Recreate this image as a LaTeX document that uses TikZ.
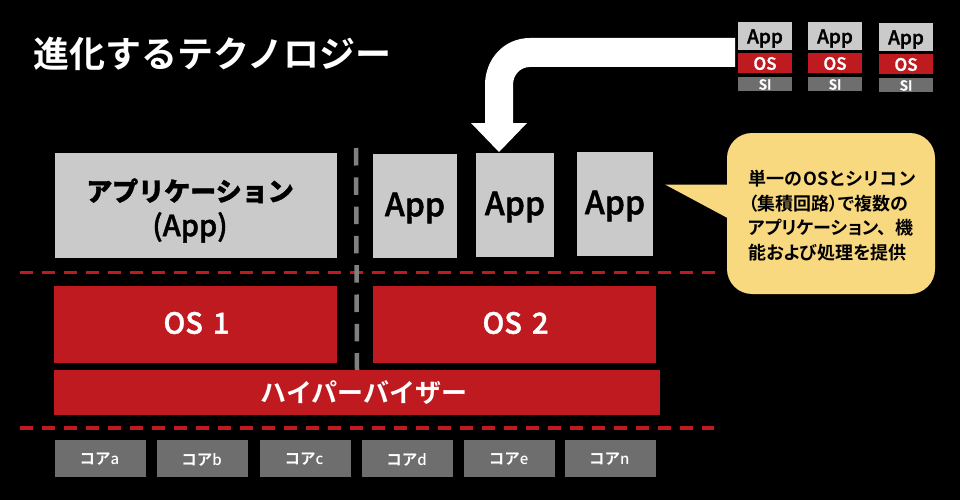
\documentclass[tikz,border=0pt]{standalone}
\usepackage{fontspec}
\setmainfont{Noto Sans CJK JP}[BoldFont={Noto Sans CJK JP Bold}]
\newfontfamily\medf{Noto Sans CJK JP Medium}
\newfontfamily\appf{Noto Sans CJK JP Medium}[FakeBold=1.5]
\newfontfamily\paltf{Noto Sans CJK JP Bold}[RawFeature=+palt]
\newcommand{\fsz}[1]{\fontsize{#1}{#1}\selectfont}
\newcommand{\dn}[2]{\raisebox{-#1pt}[\height][\depth]{#2}}
\definecolor{redbox}{HTML}{BE1A20}
\definecolor{lightbox}{HTML}{C9CAC9}
\definecolor{darkbox}{HTML}{6E6E6E}
\definecolor{bubblefill}{HTML}{F8D980}
\definecolor{vdash}{HTML}{808080}
\tikzset{
  box/.style={anchor=north west,inner sep=0pt,outer sep=0pt,align=center},
  appbox/.style={box,fill=lightbox,text=black},
  osbox/.style={box,fill=redbox,text=white},
  sibox/.style={box,fill=darkbox,text=white},
  corebox/.style={box,fill=darkbox,text=white,minimum width=#1,minimum height=37pt},
  reddash/.style={draw=redbox,line width=3.5pt,dash pattern=on 13pt off 9pt},
  graydash/.style={draw=vdash,line width=4.5pt,dash pattern=on 17.5pt off 11.8pt},
  smallapp/.style={appbox,minimum width=54pt,minimum height=28pt,font=\appf\fsz{19}},
  smallos/.style={osbox,minimum width=54pt,minimum height=20pt,font=\appf\fsz{17}},
  smallsi/.style={sibox,minimum width=54pt,minimum height=14pt,font=\appf\fsz{14}},
}
\newcommand{\coretxt}[1]{\hspace*{-2pt}\dn{1}{{\fsz{15.5}\bfseries コア}{\medf\fsz{15}#1}}}
\begin{document}
\begin{tikzpicture}[x=1pt,y=-1pt]
\useasboundingbox[fill=black] (0,0) rectangle (960,500);
\node[anchor=west,inner sep=0pt,text=white,font=\fsz{36}\bfseries] (title) at (33,54) {進化するテクノロジー};

% small stacks
\node[smallapp] (a1) at (738,22) {\dn{2.5}{App}};
\node[smallos] (o1) at (738,53) {\dn{0.5}{OS}};
\node[smallsi] (s1) at (738,77) {\dn{0.5}{SI}};
\node[smallapp] (a2) at (808,22) {\dn{2.5}{App}};
\node[smallos] (o2) at (808,53) {\dn{0.5}{OS}};
\node[smallsi] (s2) at (808,77) {\dn{0.5}{SI}};
\node[smallapp] (a3) at (879,23) {\dn{2.5}{App}};
\node[smallos] (o3) at (879,54) {\dn{0.5}{OS}};
\node[smallsi] (s3) at (879,78) {\dn{0.5}{SI}};

% main boxes
\node[appbox,minimum width=282pt,minimum height=105pt,font=\appf\fsz{26}] (bigapp) at (55,153) {\hspace*{-12pt}\dn{5}{\bfseries アプリケーション}\\[8pt]\hspace*{-12pt}\dn{5}{\fsz{29}(App)}};
\node[appbox,minimum width=84pt,minimum height=104pt,font=\appf\fsz{32}] (app1) at (373,154) {\dn{2}{App}};
\node[appbox,minimum width=78pt,minimum height=104pt,font=\appf\fsz{32}] (app2) at (476,153) {\dn{2}{App}};
\node[appbox,minimum width=76pt,minimum height=104pt,font=\appf\fsz{32}] (app3) at (577,152) {\dn{2}{App}};

% big arrow
\fill[white] (735,38) -- (530,38) .. controls (504,38) and (485,59) .. (485,85) -- (485,123) -- (471,123) -- (499,152) -- (527,123) -- (513,123) -- (513,85) .. controls (513,75) and (520,67) .. (530,67) -- (735,67) -- cycle;

% dashed separators
\coordinate (r1a) at (20,272.5);
\coordinate (r1b) at (715,272.5);
\coordinate (r2a) at (20,428);
\coordinate (r2b) at (714,428);
\draw[reddash] (r1a) -- (r1b);
\draw[reddash] (r2a) -- (r2b);

\node[osbox,minimum width=283pt,minimum height=77pt,font=\appf\fsz{29}] (os1) at (54,286) {\hspace*{2pt}\dn{-1.5}{OS\hspace{10pt}1}};
\node[osbox,minimum width=283pt,minimum height=77pt,font=\appf\fsz{29}] (os2) at (373,286) {\hspace*{2pt}\dn{-1.5}{OS\hspace{10pt}2}};
\node[osbox,minimum width=606pt,minimum height=45pt,font=\fsz{26}\bfseries] (hv) at (54,370) {\hspace*{14pt}\dn{0.5}{ハイパーバイザー}};

\coordinate (v1) at (356,148);
\coordinate (v2) at (357,370);
\draw[graydash] (v1) -- (v2);

% cores
\node[corebox=91pt] (ca) at (55,440) {\coretxt{a}};
\node[corebox=91pt] (cb) at (157,440) {\coretxt{b}};
\node[corebox=91pt] (cc) at (259.5,440) {\coretxt{c}};
\node[corebox=91pt] (cd) at (362,440) {\coretxt{d}};
\node[corebox=91pt] (ce) at (464,440) {\coretxt{e}};
\node[corebox=90.5pt] (cn) at (565,440) {\coretxt{n}};

% bubble
\fill[bubblefill] (665,184.5) -- (735,184.5) -- (735,222) -- cycle;
\node[box,fill=bubblefill,rounded corners=25pt,minimum width=208pt,minimum height=161pt] (bubble) at (727,133) {};
\node[anchor=north west,inner sep=0pt,align=left,text=black,font=\paltf\fontsize{18}{24.5}\selectfont] (btext) at (748,170) {単一の\hspace{2pt}OS\hspace{1pt}と\hspace{1pt}シ\hspace{1pt}リ\hspace{1pt}コ\hspace{1pt}ン\\（集積回路）で複数の\\アプリケーション、\hspace{9pt}機\\能および処理を提供};
\end{tikzpicture}
\end{document}
